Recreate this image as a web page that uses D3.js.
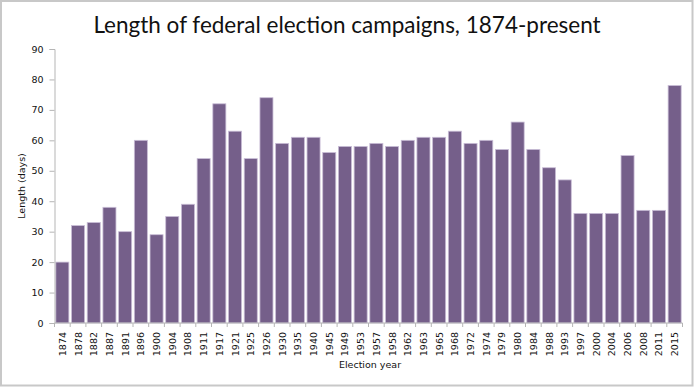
<!DOCTYPE html>
<html>
<head>
<meta charset="utf-8">
<script src="https://cdn.jsdelivr.net/npm/d3@7"></script>
<style>
  body { margin: 0; background: #fff; }
  svg { display: block; }
</style>
</head>
<body>
<div id="chart"></div>
<script>
// election years and campaign lengths (days)
var years = ["1874","1878","1882","1887","1891","1896","1900","1904","1908","1911",
             "1917","1921","1925","1926","1930","1935","1940","1945","1949","1953",
             "1957","1958","1962","1963","1965","1968","1972","1974","1979","1980",
             "1984","1988","1993","1997","2000","2004","2006","2008","2011","2015"];
var lengths = [20,32,33,38,30,60,29,35,39,54,
               72,63,54,74,59,61,61,56,58,58,
               59,58,60,61,61,63,59,60,57,66,
               57,51,47,36,36,36,55,37,37,78];
var yTicks = [0,10,20,30,40,50,60,70,80,90];

var svgWidth = 694;
var svgHeight = 388;
var margin = { top: 49, right: 11.5, bottom: 65, left: 54.5 };
var width = svgWidth - margin.left - margin.right;
var height = svgHeight - margin.top - margin.bottom;

var svg = d3.select("#chart").append("svg")
    .attr("width", svgWidth)
    .attr("height", svgHeight);

// outer frame
svg.append("rect")
    .attr("x", 1).attr("y", 1)
    .attr("width", svgWidth - 2.5).attr("height", svgHeight - 3.5)
    .attr("fill", "none")
    .attr("stroke", "#c8c8c8")
    .attr("stroke-width", 2);

var chart = svg.append("g")
    .attr("transform", `translate(${margin.left},${margin.top})`);

var x = d3.scaleBand()
    .domain(years)
    .range([0, width])
    .paddingInner(0.17)
    .paddingOuter(0.085);

var y = d3.scaleLinear()
    .domain([0, 90])
    .range([height, 0]);

// bars
chart.selectAll("rect.bar")
    .data(years)
    .enter()
    .append("rect")
    .attr("class", "bar")
    .attr("x", d => x(d))
    .attr("y", (d, i) => y(lengths[i]))
    .attr("width", x.bandwidth())
    .attr("height", (d, i) => height - y(lengths[i]))
    .attr("fill", "#755f8a")
    .attr("stroke", "#c9bdd6")
    .attr("stroke-width", 0.8);

// y axis
var yAxis = chart.append("g")
    .call(d3.axisLeft(y).tickValues(yTicks).tickSize(5).tickPadding(6));
yAxis.selectAll("path, line").attr("stroke", "#b5b5b5");
yAxis.selectAll("text")
    .attr("font-family", "DejaVu Sans, sans-serif")
    .attr("font-size", 9.5)
    .attr("fill", "#111");

// x axis with ticks on band boundaries
var xAxis = chart.append("g")
    .attr("transform", `translate(0,${height})`);
xAxis.append("line")
    .attr("x1", 0).attr("x2", width)
    .attr("stroke", "#b5b5b5");
xAxis.selectAll("line.tick")
    .data(d3.range(years.length + 1))
    .enter()
    .append("line")
    .attr("class", "tick")
    .attr("x1", i => i * width / years.length)
    .attr("x2", i => i * width / years.length)
    .attr("y1", 0).attr("y2", 4)
    .attr("stroke", "#b5b5b5");
xAxis.selectAll("text")
    .data(years)
    .enter()
    .append("text")
    .attr("transform", d => `translate(${x(d) + x.bandwidth() / 2 + 3.5},9) rotate(-90)`)
    .attr("text-anchor", "end")
    .attr("font-family", "DejaVu Sans, sans-serif")
    .attr("font-size", 9.5)
    .attr("fill", "#111")
    .text(d => d);

// title
svg.append("text")
    .attr("x", 347)
    .attr("y", 33)
    .attr("text-anchor", "middle")
    .attr("font-family", "Lato, sans-serif")
    .attr("font-size", 22.5)
    .attr("fill", "#111")
    .text("Length of federal election campaigns, 1874-present");

// axis labels
svg.append("text")
    .attr("transform", "translate(25,186) rotate(-90)")
    .attr("text-anchor", "middle")
    .attr("font-family", "DejaVu Sans, sans-serif")
    .attr("font-size", 9.5)
    .attr("fill", "#111")
    .text("Length (days)");

svg.append("text")
    .attr("x", 370)
    .attr("y", 368)
    .attr("text-anchor", "middle")
    .attr("font-family", "DejaVu Sans, sans-serif")
    .attr("font-size", 9.5)
    .attr("fill", "#111")
    .text("Election year");
</script>
</body>
</html>
